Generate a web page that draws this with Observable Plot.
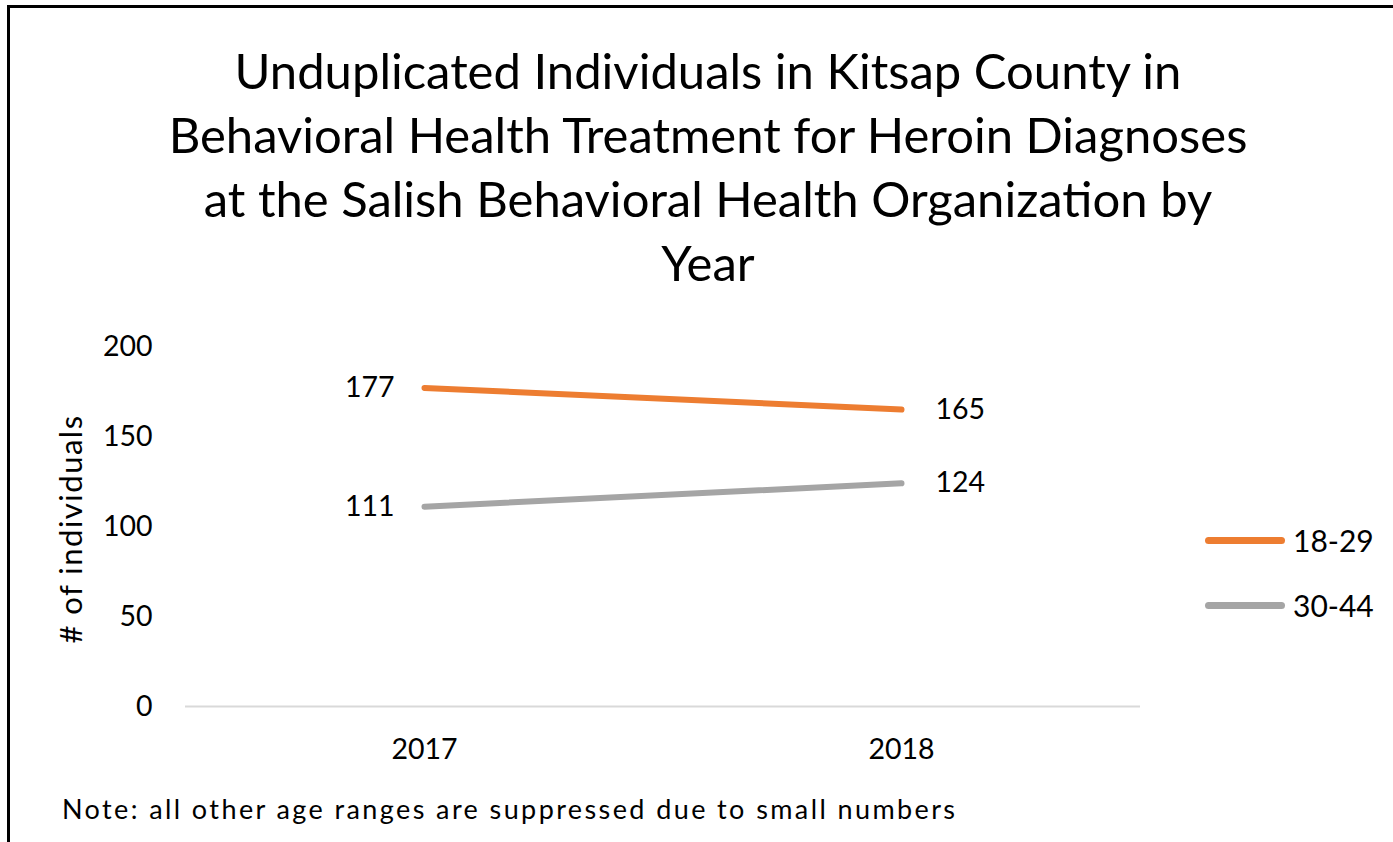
<!DOCTYPE html>
<html>
<head>
<meta charset="utf-8">
<script src="https://cdn.jsdelivr.net/npm/d3@7"></script>
<script src="https://cdn.jsdelivr.net/npm/@observablehq/plot@0.6"></script>
<style>
  html, body { margin: 0; padding: 0; background: #fff; }
  body { width: 1393px; height: 842px; overflow: hidden; font-family: Lato, "Open Sans", sans-serif; color: #000; }
  #frame { position: absolute; left: 7px; top: 5px; width: 1400px; height: 860px; border-left: 3px solid #000; border-top: 3px solid #000; box-sizing: border-box; }
  #title { position: absolute; left: 0; width: 1416px; top: 38px; text-align: center; font-size: 49px; line-height: 64px; }
  #chart { position: absolute; left: 0; top: 320px; }
  #ylabel { position: absolute; left: 70px; top: 529px; transform: translate(-50%, -50%) rotate(-90deg); font-size: 31px; letter-spacing: 1.5px; white-space: nowrap; }
  .leg { position: absolute; left: 1205px; display: flex; align-items: center; font-size: 30px; }
  .leg .sw { width: 80px; height: 7px; border-radius: 4px; margin-right: 8px; }
  #note { position: absolute; left: 62px; top: 792px; font-size: 27px; letter-spacing: 2.4px; white-space: nowrap; }
</style>
</head>
<body>
<div id="frame"></div>
<div id="title"></div>
<div id="chart"></div>
<div id="ylabel"></div>
<div id="legend"></div>
<div id="note"></div>
<script>
const years = ["2017", "2018"];
const seriesNames = ["18-29", "30-44"];
const values1829 = [177, 165];
const values3044 = [111, 124];
const seriesColors = ["#ED7D31", "#A5A5A5"];
const yTicks = [0, 50, 100, 150, 200];
const titleLines = [
  "Unduplicated Individuals in Kitsap County in",
  "Behavioral Health Treatment for Heroin Diagnoses",
  "at the Salish Behavioral Health Organization by",
  "Year"
];
const yLabel = "# of individuals";
const noteText = "Note: all other age ranges are suppressed due to small numbers";

const rows = [];
[values1829, values3044].forEach((vals, si) => {
  years.forEach((yr, i) => rows.push({ year: yr, value: vals[i], series: seriesNames[si] }));
});

document.getElementById("title").innerHTML = titleLines.join("<br>");
document.getElementById("ylabel").textContent = yLabel;
document.getElementById("note").textContent = noteText;

const legend = document.getElementById("legend");
seriesNames.forEach((s, i) => {
  const d = document.createElement("div");
  d.className = "leg";
  d.style.top = (522 + i * 65) + "px";
  d.innerHTML = `<div class="sw" style="background:${seriesColors[i]}"></div><span>${s}</span>`;
  legend.appendChild(d);
});

const chart = Plot.plot({
  width: 1393,
  height: 522,
  marginLeft: 185,
  marginRight: 253,
  marginTop: 26,
  marginBottom: 136,
  style: { fontFamily: "Lato, 'Open Sans', sans-serif", fontSize: "28px", color: "#000", background: "transparent" },
  x: { type: "point", domain: years, padding: 0.5, label: null },
  y: { domain: [0, 200], label: null },
  color: { domain: seriesNames, range: seriesColors },
  marks: [
    Plot.ruleY([0], { stroke: "#D9D9D9", strokeWidth: 2 }),
    Plot.axisY({ ticks: yTicks, tickSize: 0, tickPadding: 33, fontSize: 28.5 }),
    Plot.axisX({ tickSize: 0, tickPadding: 32, fontSize: 28.5 }),
    Plot.line(rows, { x: "year", y: "value", z: "series", stroke: "series", strokeWidth: 6, strokeLinecap: "round" }),
    Plot.text(rows.filter(d => d.year === years[0]), { x: "year", y: "value", text: d => String(d.value), textAnchor: "end", dx: -30, fontSize: 28.5, fill: "#000" }),
    Plot.text(rows.filter(d => d.year === years[1]), { x: "year", y: "value", text: d => String(d.value), textAnchor: "start", dx: 34, fontSize: 28.5, fill: "#000" })
  ]
});
document.getElementById("chart").appendChild(chart);
</script>
</body>
</html>
